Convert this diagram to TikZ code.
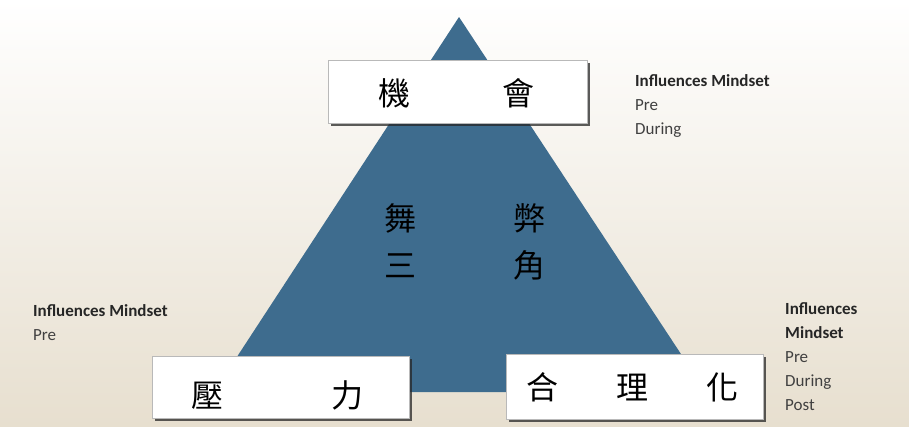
\documentclass[tikz,border=0pt]{standalone}
\usepackage{fontspec}
\newfontfamily\cjk{Noto Sans CJK TC}
\newfontfamily\labelfont{Carlito}
\usetikzlibrary{shadows}
\definecolor{triblue}{HTML}{3E6C8E}
\definecolor{bgbeige}{HTML}{E7DFCF}
\definecolor{notegray}{HTML}{404040}
\definecolor{notedark}{HTML}{262626}

\tikzset{
	hanbox/.style={draw=gray!55, line width=0.6pt, fill=white, inner sep=0pt,
		drop shadow={shadow xshift=2.5pt, shadow yshift=-2.5pt, fill=black!85, opacity=0.75}},
	hanzi/.style={font=\cjk\fontsize{32}{47}\selectfont, inner sep=0pt},
	note/.style={font=\labelfont\fontsize{17}{24}\selectfont, text=notegray,
		align=left, anchor=north west, inner sep=0pt},
}

\begin{document}
\begin{tikzpicture}[x=1pt,y=-1pt]
	\useasboundingbox (0,0) rectangle (909,426);
	% background
	\shade[top color=white, middle color=white!55!bgbeige, bottom color=bgbeige] (0,0) rectangle (909,426);
	
	% the triangle
	\coordinate (apex) at (459,17);
	\coordinate (baseL) at (214,392);
	\coordinate (baseR) at (706,392);
	\fill[triblue] (apex) -- (baseL) -- (baseR) -- cycle;
	\draw (465,241.5) node(tri) [hanzi,align=center] {舞\hspace{97pt}弊\\三\hspace{97pt}角};
	
	% corner boxes
	\draw (457.5,91.5) node(opp) [hanbox,minimum width=259pt,minimum height=63pt] {};
	\draw (456.5,93) node(opptext) [hanzi] {機\hspace{93pt}會};
	\draw (280.5,387) node(pres) [hanbox,minimum width=257pt,minimum height=62pt] {};
	\draw (277,395) node(prestext) [hanzi] {壓\hspace{108pt}力};
	\draw (634.5,386.5) node(rat) [hanbox,minimum width=257pt,minimum height=65pt] {};
	\draw (632.5,387) node(rattext) [hanzi] {合\hspace{58pt}理\hspace{58pt}化};
	
	% notes
	\node (oppnote) [note] at (635,74) {\textcolor{notedark}{\bfseries Influences Mindset}\\Pre\\During};
	\node (presnote) [note] at (33,304) {\textcolor{notedark}{\bfseries Influences Mindset}\\Pre};
	\node (ratnote) [note] at (785,302) {\textcolor{notedark}{\bfseries Influences}\\\textcolor{notedark}{\bfseries Mindset}\\Pre\\During\\Post};
\end{tikzpicture}
\end{document}
